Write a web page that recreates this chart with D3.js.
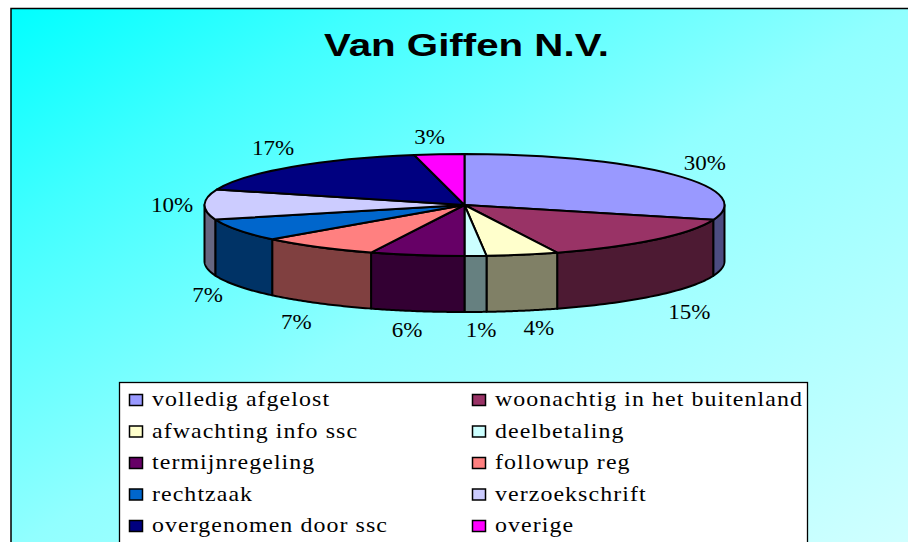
<!DOCTYPE html>
<html>
<head>
<meta charset="utf-8">
<script src="https://cdn.jsdelivr.net/npm/d3@7"></script>
<style>
  html, body { margin: 0; padding: 0; background: #fff; overflow: hidden; }
</style>
</head>
<body>
<div id="chart"></div>
<script>
// Share of each category
const categories = ["volledig afgelost", "woonachtig in het buitenland", "afwachting info ssc", "deelbetaling",
    "termijnregeling", "followup reg", "rechtzaak", "verzoekschrift", "overgenomen door ssc", "overige"];
const shares = [29.7, 14.5, 4.45, 1.35, 5.85, 7.4, 7.15, 9.5, 17, 3.1];
const colors = ["#9999ff", "#993366", "#ffffcc", "#ccffff", "#660066", "#ff8080", "#0066cc", "#ccccff", "#000080", "#ff00ff"];
const wallColors = ["#4c4c80", "#4d1a33", "#808066", "#668080", "#330033", "#804040", "#003366", "#666680", "#000040", "#800080"];

const width = 908, height = 542;
const serif = "'Liberation Serif', serif";

const svg = d3.select("#chart").append("svg")
    .attr("width", width)
    .attr("height", height)
    .style("display", "block");

// Background ramp is steeper near the top left corner
const grad = svg.append("defs").append("linearGradient")
    .attr("id", "bg")
    .attr("gradientUnits", "userSpaceOnUse")
    .attr("x1", 11).attr("y1", 9)
    .attr("x2", 488).attr("y2", 803);
grad.append("stop").attr("offset", "0%").attr("stop-color", "#00ffff");
grad.append("stop").attr("offset", "20%").attr("stop-color", "#40ffff");
grad.append("stop").attr("offset", "50%").attr("stop-color", "#91ffff");
grad.append("stop").attr("offset", "100%").attr("stop-color", "#d1ffff");

// Chart area, runs off the right and bottom of the picture
svg.append("rect")
    .attr("x", 11).attr("y", 8.5)
    .attr("width", 960).attr("height", 600)
    .attr("fill", "url(#bg)")
    .attr("stroke", "#000")
    .attr("stroke-width", 1.5);

svg.append("text")
    .attr("x", 324).attr("y", 56)
    .attr("textLength", 285)
    .attr("lengthAdjust", "spacingAndGlyphs")
    .style("font-family", "'Liberation Sans', Arial, sans-serif")
    .style("font-weight", "bold")
    .style("font-size", "31px")
    .text("Van Giffen N.V.");

// Pie geometry
const cx = 464.5, cy = 205, rx = 260, ry = 51, depth = 56;

const pie = d3.pie().sort(null).value(d => d);
const arcs = pie(shares);

// A point on the rim for an angle measured clockwise from 12 o'clock
const rim = a => [cx + rx * Math.sin(a), cy - ry * Math.cos(a)];

const outline = d3.line();

// Side wall: only the front half of the disc shows
const walls = svg.append("g");
arcs.forEach((d, i) => {
    const a0 = Math.max(d.startAngle, Math.PI / 2);
    const a1 = Math.min(d.endAngle, Math.PI * 1.5);
    if (a1 <= a0) return;
    const pts = d3.range(0, 41).map(k => rim(a0 + (a1 - a0) * k / 40));
    const lower = pts.map(p => [p[0], p[1] + depth]).reverse();
    walls.append("path")
        .attr("d", outline(pts.concat(lower)) + "Z")
        .attr("fill", wallColors[i])
        .attr("stroke", "#000")
        .attr("stroke-width", 2)
        .attr("stroke-linejoin", "round");
});

// Top of the disc, a flat d3.arc squashed into an ellipse
const arc = d3.arc().innerRadius(0).outerRadius(rx);
svg.append("g")
    .attr("transform", "translate(" + cx + "," + cy + ") scale(1," + (ry / rx) + ")")
    .selectAll("path")
    .data(arcs)
    .enter()
    .append("path")
    .attr("d", arc)
    .attr("fill", (d, i) => colors[i])
    .attr("stroke", "#000")
    .attr("stroke-width", 2)
    .attr("stroke-linejoin", "round")
    .attr("vector-effect", "non-scaling-stroke");

// Percent labels sit outside the rim, each nudged by hand like the original
const nudgeX = [1, 7, 8, 4, -3, 0, 2.5, 5.5, 7, -6];
const nudgeY = [0, 3, -2, -2, -1, 2, -1, 1, -4, 3];
svg.append("g")
    .selectAll("text")
    .data(arcs)
    .enter()
    .append("text")
    .attr("transform", (d, i) => {
        const a = (d.startAngle + d.endAngle) / 2;
        const down = Math.cos(a) < 0 && Math.sin(a) * Math.sin(a) < 0.98 ? depth : 0;
        const x = cx + 298 * Math.sin(a) + nudgeX[i];
        const y = cy - (ry + 20) * Math.cos(a) + down + 7 + nudgeY[i];
        return "translate(" + x + "," + y + ") scale(1.15,1)";
    })
    .attr("text-anchor", "middle")
    .style("font-family", serif)
    .style("font-size", "20px")
    .text(d => Math.round(d.value) + "%");

// Legend, two columns, runs off the bottom like the picture
const legendX = d3.scalePoint().domain([0, 1]).range([129, 472]);
const legendY = d3.scalePoint().domain(d3.range(5)).range([400, 526]);

svg.append("rect")
    .attr("x", 119.5).attr("y", 382.5)
    .attr("width", 688).attr("height", 190)
    .attr("fill", "#fff")
    .attr("stroke", "#000")
    .attr("stroke-width", 1.3);

const item = svg.append("g")
    .selectAll("g")
    .data(categories)
    .enter()
    .append("g")
    .attr("transform", (d, i) => "translate(" + legendX(i % 2) + "," + legendY(Math.floor(i / 2)) + ")");

item.append("rect")
    .attr("x", 0.5).attr("y", -5.5)
    .attr("width", 13).attr("height", 11)
    .attr("fill", (d, i) => colors[i])
    .attr("stroke", "#000")
    .attr("stroke-width", 1.5);

item.append("text")
    .attr("transform", "translate(23,6) scale(1.195,1)")
    .style("font-family", serif)
    .style("font-size", "20px")
    .style("letter-spacing", "0.9px")
    .text(d => d);
</script>
</body>
</html>
